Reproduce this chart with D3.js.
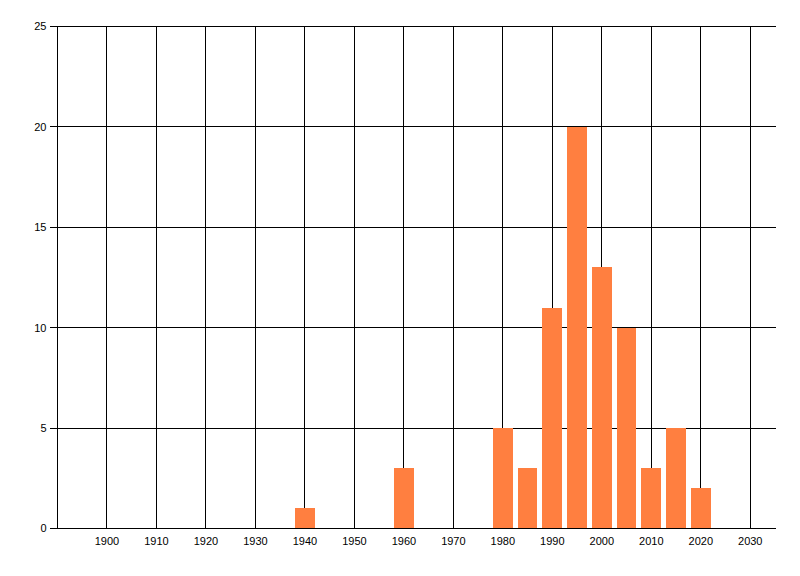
<!DOCTYPE html>
<html>
<head>
<meta charset="utf-8">
<script src="https://cdn.jsdelivr.net/npm/d3@7"></script>
<style>
	body { margin: 0; background: #ffffff; }
	svg { display: block; }
	text { font-family: "Liberation Sans", "DejaVu Sans", sans-serif; font-size: 11px; fill: #000; }
</style>
</head>
<body>
<svg id="chart" width="800" height="576"></svg>
<script>
// bar centres (years) and counts
const years = [1940, 1960, 1980, 1985, 1990, 1995, 2000, 2005, 2010, 2015, 2020];
const counts = [1, 3, 5, 3, 11, 20, 13, 10, 3, 5, 2];
const xTicks = [1900, 1910, 1920, 1930, 1940, 1950, 1960, 1970, 1980, 1990, 2000, 2010, 2020, 2030];
const yTicks = [0, 5, 10, 15, 20, 25];

const svg = d3.select('#chart');
const plotLeft = 57.5, plotRight = 776, plotTop = 26.5, plotBottom = 528.5;

const x = d3.scaleLinear().domain([1890, 2035.2]).range([plotLeft, plotRight]);
const y = d3.scaleLinear().domain([0, 25]).range([plotBottom, plotTop]);
const snap = v => Math.floor(v) + 0.5; // crisp 1px lines

// grid lines
const grid = svg.append('g').attr('shape-rendering', 'crispEdges');
grid.selectAll('.vgrid').data(xTicks).enter()
	.append('line')
	.attr('x1', d => snap(x(d)))
	.attr('x2', d => snap(x(d)))
	.attr('y1', plotTop).attr('y2', plotBottom)
	.attr('stroke', '#000');
grid.selectAll('.hgrid').data(yTicks).enter()
	.append('line')
	.attr('x1', plotLeft - 8).attr('x2', plotRight)
	.attr('y1', d => snap(y(d)))
	.attr('y2', d => snap(y(d)))
	.attr('stroke', '#000');

// bars, 4 years wide
const data = years.map((yr, i) => ({year: yr, value: counts[i]}));
svg.append('g').selectAll('rect').data(data).enter()
	.append('rect')
	.attr('x', d => x(d.year - 2))
	.attr('width', d => x(d.year + 2) - x(d.year - 2))
	.attr('y', d => y(d.value))
	.attr('height', d => y(0) - y(d.value))
	.attr('fill', '#ff7f40')
	.attr('shape-rendering', 'crispEdges');

// axis lines drawn over bars
svg.append('line')
	.attr('x1', snap(plotLeft)).attr('x2', snap(plotLeft)).attr('y1', plotTop).attr('y2', snap(plotBottom))
	.attr('stroke', '#000').attr('shape-rendering', 'crispEdges');
svg.append('line')
	.attr('x1', plotLeft - 8).attr('x2', plotRight).attr('y1', snap(plotBottom)).attr('y2', snap(plotBottom))
	.attr('stroke', '#000').attr('shape-rendering', 'crispEdges');

// labels
svg.append('g').selectAll('text').data(yTicks).enter()
	.append('text')
	.attr('x', plotLeft - 11)
	.attr('y', d => y(d))
	.attr('dy', '0.35em')
	.attr('text-anchor', 'end')
	.text(d => d);
svg.append('g').selectAll('text').data(xTicks).enter()
	.append('text')
	.attr('x', d => x(d))
	.attr('y', plotBottom + 13)
	.attr('dy', '0.35em')
	.attr('text-anchor', 'middle')
	.text(d => d);
</script>
</body>
</html>
